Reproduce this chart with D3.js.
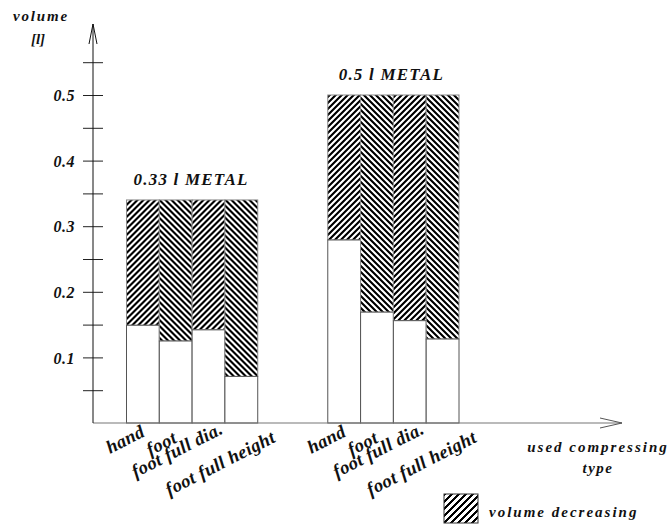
<!DOCTYPE html>
<html>
<head>
<meta charset="utf-8">
<script src="https://cdn.jsdelivr.net/npm/d3@7"></script>
<style>
  body { margin: 0; background: #fff; }
</style>
</head>
<body>
<svg id="chart" width="670" height="525"></svg>
<script>
// ---- data ----
const groups = ["0.33 l METAL", "0.5 l METAL"];
const types = ["hand", "foot", "foot full dia.", "foot full height"];
const totals = [0.34, 0.50];                       // initial volume per group
const remaining = [                                 // volume after compressing
  [0.149, 0.125, 0.142, 0.071],
  [0.279, 0.169, 0.156, 0.128]
];
const yTickValues = [0.05, 0.1, 0.15, 0.2, 0.25, 0.3, 0.35, 0.4, 0.45, 0.5, 0.55];
const yTickLabels = { "0.1": "0.1", "0.2": "0.2", "0.3": "0.3", "0.4": "0.4", "0.5": "0.5" };
const legendLabel = "volume decreasing";

// ---- layout ----
const FONT = "Liberation Serif";
const svg = d3.select("#chart");
const axisX = 93, baseY = 423;
const y = d3.scaleLinear().domain([0, 0.5]).range([baseY, 95]);
const gx = d3.scaleBand().domain(groups).range([126.5, 459]).paddingInner(0.348).paddingOuter(0);
const bx = d3.scaleBand().domain(types).range([0, gx.bandwidth()]).padding(0);

function txt(sel) {
  return sel.attr("font-family", FONT).attr("font-weight", "bold").attr("font-style", "italic").attr("fill", "#111");
}

// crisp pixel hatch patterns
const defs = svg.append("defs");
function hatch(id, dir, size, black) {
  const p = defs.append("pattern").attr("id", id).attr("patternUnits", "userSpaceOnUse")
    .attr("width", size).attr("height", size);
  p.append("rect").attr("width", size).attr("height", size).attr("fill", "#fff");
  for (let r = 0; r < size; r++) {
    const start = dir === "/" ? (size - 1 - r) : r;
    for (let k = 0; k < black; k++) {
      const xx = (start + k) % size;
      p.append("rect").attr("x", xx).attr("y", r).attr("width", 1).attr("height", 1)
        .attr("fill", "#000").attr("shape-rendering", "crispEdges");
    }
  }
}
hatch("hf", "/", 6, 3);
hatch("hb", "\\", 6, 3);
hatch("hl", "/", 7, 3);

// bars
groups.forEach((g, gi) => {
  const gg = svg.append("g").attr("transform", `translate(${gx(g)},0)`);
  types.forEach((t, ti) => {
    const x0 = bx(t), w = bx.bandwidth();
    gg.append("rect").attr("x", x0).attr("width", w)
      .attr("y", y(totals[gi])).attr("height", y(remaining[gi][ti]) - y(totals[gi]))
      .attr("fill", ti % 2 === 0 ? "url(#hf)" : "url(#hb)")
      .attr("stroke", "#8a8a8a").attr("stroke-width", 1);
    gg.append("rect").attr("x", x0).attr("width", w)
      .attr("y", y(remaining[gi][ti])).attr("height", y(0) - y(remaining[gi][ti]))
      .attr("fill", "#fff").attr("stroke", "#555").attr("stroke-width", 1);
  });
  // group title
  txt(svg.append("text")).attr("x", gx(g) + gx.bandwidth() / 2 + (gi === 0 ? -1 : -2))
    .attr("y", y(totals[gi]) - 15).attr("text-anchor", "middle")
    .attr("font-size", 17).attr("letter-spacing", 1.2).text(g);
  // category labels (anchored at baseline start)
  const lab = [{dx: -33, y: 454}, {dx: -25.5, y: 456}, {dx: -73, y: 478}, {dx: -72, y: 496}];
  types.forEach((t, ti) => {
    const cx = gx(g) + bx(t) + bx.bandwidth() / 2 + lab[ti].dx;
    txt(svg.append("text")).attr("transform", `translate(${cx},${lab[ti].y}) rotate(-27)`)
      .attr("text-anchor", "start").attr("font-size", 18.5).attr("letter-spacing", 0.4).text(t);
  });
});

// x axis
svg.append("line").attr("x1", axisX).attr("x2", 622).attr("y1", baseY).attr("y2", baseY)
  .attr("stroke", "#777").attr("stroke-width", 1.2);
svg.append("path").attr("d", `M600,418 L622,423 L600,428`).attr("fill", "none")
  .attr("stroke", "#555").attr("stroke-width", 1);

// y axis
const yl = d3.axisLeft(y).tickValues(yTickValues).tickSize(10).tickPadding(8)
  .tickFormat(d => yTickLabels[String(d)] || "");
const yr = d3.axisRight(y).tickValues(yTickValues).tickSize(10).tickFormat("");
const ga = svg.append("g").attr("transform", `translate(${axisX},0)`).call(yl);
const gb = svg.append("g").attr("transform", `translate(${axisX},0)`).call(yr);
[ga, gb].forEach(a => { a.select(".domain").remove(); a.selectAll("line").attr("stroke", "#222"); a.attr("font-family", FONT); });
txt(ga.selectAll("text")).attr("font-size", 16).attr("dy", "0.35em").attr("letter-spacing", 0.5);
svg.append("line").attr("x1", axisX).attr("x2", axisX).attr("y1", baseY).attr("y2", 24)
  .attr("stroke", "#111").attr("stroke-width", 1);
svg.append("path").attr("d", `M89,44 L93,24 L97,44`).attr("fill", "none").attr("stroke", "#111").attr("stroke-width", 1);

// axis titles
txt(svg.append("text")).attr("x", 41).attr("y", 21).attr("text-anchor", "middle").attr("font-size", 15)
  .attr("letter-spacing", 1.8).text("volume");
txt(svg.append("text")).attr("x", 38).attr("y", 44).attr("text-anchor", "middle").attr("font-size", 15).text("[l]");
txt(svg.append("text")).attr("x", 598).attr("y", 452).attr("text-anchor", "middle").attr("font-size", 15)
  .attr("letter-spacing", 2).text("used compressing");
txt(svg.append("text")).attr("x", 598).attr("y", 473).attr("text-anchor", "middle").attr("font-size", 15)
  .attr("letter-spacing", 1.5).text("type");

// legend
svg.append("rect").attr("x", 444).attr("y", 494).attr("width", 34).attr("height", 29)
  .attr("fill", "url(#hl)").attr("stroke", "#333").attr("stroke-width", 1);
txt(svg.append("text")).attr("x", 489).attr("y", 517).attr("font-size", 15)
  .attr("letter-spacing", 2).text(legendLabel);
</script>
</body>
</html>
